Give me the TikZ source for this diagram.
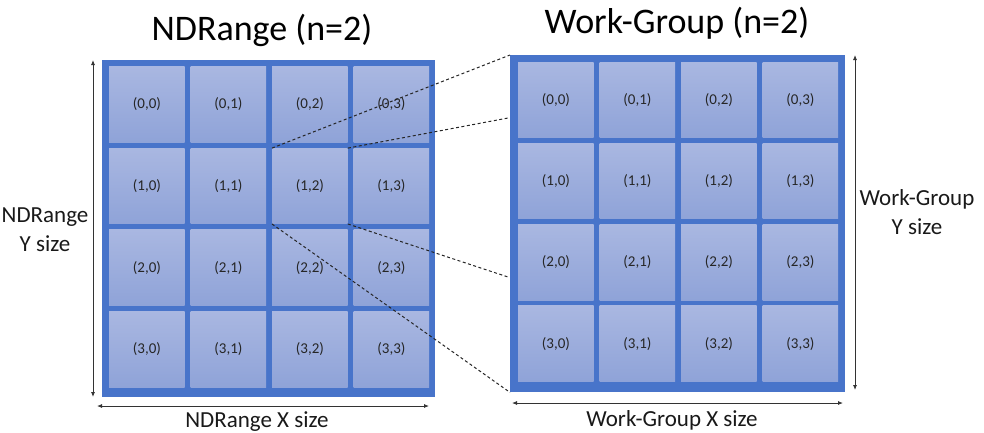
\documentclass[tikz,border=0pt]{standalone}
\usepackage{fontspec}
\setmainfont{Carlito}
\usetikzlibrary{arrows.meta}
\definecolor{gridblue}{HTML}{4874CA}
\definecolor{celltop}{HTML}{A9B7E1}
\definecolor{cellbot}{HTML}{8FA3D8}
\tikzset{
 outerbox/.style={fill=gridblue, inner sep=0pt, anchor=north west},
 cellbox/.style={top color=celltop, bottom color=cellbot, inner sep=0pt, minimum width=75.5pt, minimum height=75.5pt, anchor=north west, font=\fontsize{15}{17}\selectfont, text=black!85},
 title/.style={font=\fontsize{36}{40}\selectfont, anchor=base},
 axislabel/.style={font=\fontsize{23}{29}\selectfont, align=center, text=black!90},
 dim/.style={draw=black!80, line width=0.8pt, {Latex[length=5pt,width=4pt]}-{Latex[length=5pt,width=4pt]}},
 link/.style={draw=black!85, line width=1pt, dash pattern=on 3pt off 2.5pt},
}
\begin{document}
\begin{tikzpicture}[x=1pt,y=-1pt]
\useasboundingbox (0,0) rectangle (984,432);
\node[outerbox, minimum width=333pt, minimum height=337pt] (L) at (102,60) {};
\node[outerbox, minimum width=335pt, minimum height=337pt] (R) at (510,55) {};
\foreach \i in {0,...,3} {
 \foreach \j in {0,...,3} {
  \node[cellbox] (L\i\j) at ({109+\j*81.5},{66.5+\i*81.6}) {(\i,\j)};
  \node[cellbox] (R\i\j) at ({518+\j*81.5},{62+\i*81.25}) {(\i,\j)};
 }
}
\coordinate (e2) at (508,118);
\coordinate (e3) at (508,277);
\draw[link] (L12.north west) -- (R.north west);
\draw[link] (L12.north east) -- (e2);
\draw[link] (L12.south east) -- (e3);
\draw[link] (L12.south west) -- (R.south west);
\coordinate (ly1) at (93,60); \coordinate (ly2) at (93,397);
\coordinate (lx1) at (97,406); \coordinate (lx2) at (429,406);
\coordinate (ry1) at (855,55); \coordinate (ry2) at (855,390);
\coordinate (rx1) at (512,403); \coordinate (rx2) at (843,403);
\draw[dim] (ly1) -- (ly2);
\draw[dim] (lx1) -- (lx2);
\draw[dim] (ry1) -- (ry2);
\draw[dim] (rx1) -- (rx2);
\node[title] (tL) at (262,40) {NDRange (n=2)};
\node[title] (tR) at (677,33) {Work-Group (n=2)};
\node[axislabel, anchor=base] (xL) at (257,427) {NDRange X size};
\node[axislabel, anchor=base] (xR) at (672,426) {Work-Group X size};
\node[axislabel, inner sep=0pt] (yL) at (45,230) {NDRange\\Y size};
\node[axislabel] (yR) at (917,212) {Work-Group\\Y size};
\end{tikzpicture}
\end{document}
